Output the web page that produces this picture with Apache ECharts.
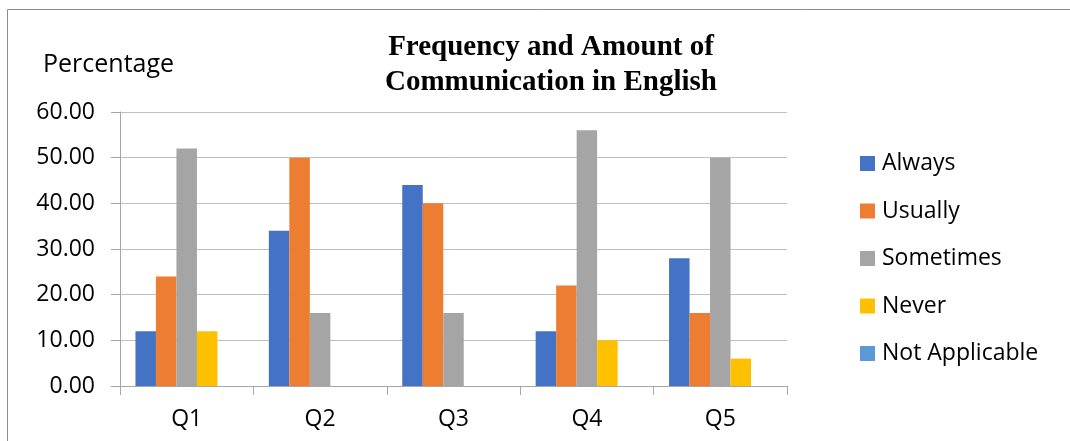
<!DOCTYPE html>
<html>
<head>
<meta charset="utf-8">
<script src="https://cdn.jsdelivr.net/npm/echarts@6/dist/echarts.min.js"></script>
<style>
  html, body { margin: 0; padding: 0; background: #fff; }
  #chart { width: 1070px; height: 441px; }
</style>
</head>
<body>
<div id="chart"></div>
<script>
var categories = ['Q1', 'Q2', 'Q3', 'Q4', 'Q5'];
var seriesNames = ['Always', 'Usually', 'Sometimes', 'Never', 'Not Applicable'];
var always = [12, 34, 44, 12, 28];
var usually = [24, 50, 40, 22, 16];
var sometimes = [52, 16, 16, 56, 50];
var never = [12, 0, 0, 10, 6];
var notApplicable = [0, 0, 0, 0, 0];
var colors = ['#4472C4', '#ED7D31', '#A5A5A5', '#FFC000', '#5B9BD5'];

var values = [always, usually, sometimes, never, notApplicable];
var labelFont = '"Open Sans", "Liberation Sans", sans-serif';

var chart = echarts.init(document.getElementById('chart'), null, { renderer: 'canvas' });

var option = {
  animation: false,
  backgroundColor: '#fff',
  color: colors,
  title: [{
    text: 'Frequency and Amount of\nCommunication in English',
    left: 546,
    top: 25,
    textAlign: 'center',
    textStyle: {
      fontFamily: '"Liberation Serif", "Times New Roman", serif',
      fontWeight: 'bold',
      fontSize: 29,
      lineHeight: 35,
      color: '#000'
    }
  }, {
    text: 'Percentage',
    left: 38,
    top: 47,
    textStyle: {
      fontFamily: labelFont,
      fontWeight: 'normal',
      fontSize: 25,
      color: '#000'
    }
  }],
  legend: {
    orient: 'vertical',
    left: 860,
    top: 152,
    padding: 0,
    itemWidth: 15,
    itemHeight: 15,
    itemGap: 24.5,
    icon: 'rect',
    data: seriesNames,
    textStyle: {
      fontFamily: labelFont,
      fontSize: 23,
      lineHeight: 23,
      color: '#000',
      padding: [0, 0, 0, 2]
    }
  },
  grid: {
    left: 120,
    right: 283,
    top: 112,
    bottom: 55
  },
  xAxis: {
    type: 'category',
    data: categories,
    axisLine: { lineStyle: { color: '#a6a6a6', width: 1 } },
    axisTick: { show: true, length: 9, lineStyle: { color: '#a6a6a6' } },
    axisLabel: {
      margin: 22,
      fontFamily: labelFont,
      fontSize: 23,
      color: '#000'
    }
  },
  yAxis: {
    type: 'value',
    min: 0,
    max: 60,
    interval: 10,
    axisLine: { show: true, lineStyle: { color: '#a6a6a6' } },
    axisTick: { show: true, length: 9, lineStyle: { color: '#a6a6a6' } },
    splitLine: { lineStyle: { color: '#bfbfbf' } },
    axisLabel: {
      margin: 25,
      fontFamily: labelFont,
      fontSize: 23,
      color: '#000',
      formatter: function(v) { return v.toFixed(2); }
    }
  },
  series: seriesNames.map(function(name, i) {
    return {
      name: name,
      type: 'bar',
      barWidth: 20.5,
      barGap: '0%',
      data: values[i]
    };
  }),
  graphic: [{
    type: 'polyline',
    silent: true,
    shape: { points: [[7.5, 441], [7.5, 9.5], [1070, 9.5]] },
    style: { stroke: '#8c8c8c', lineWidth: 1, fill: null }
  }]
};

chart.setOption(option);
</script>
</body>
</html>
